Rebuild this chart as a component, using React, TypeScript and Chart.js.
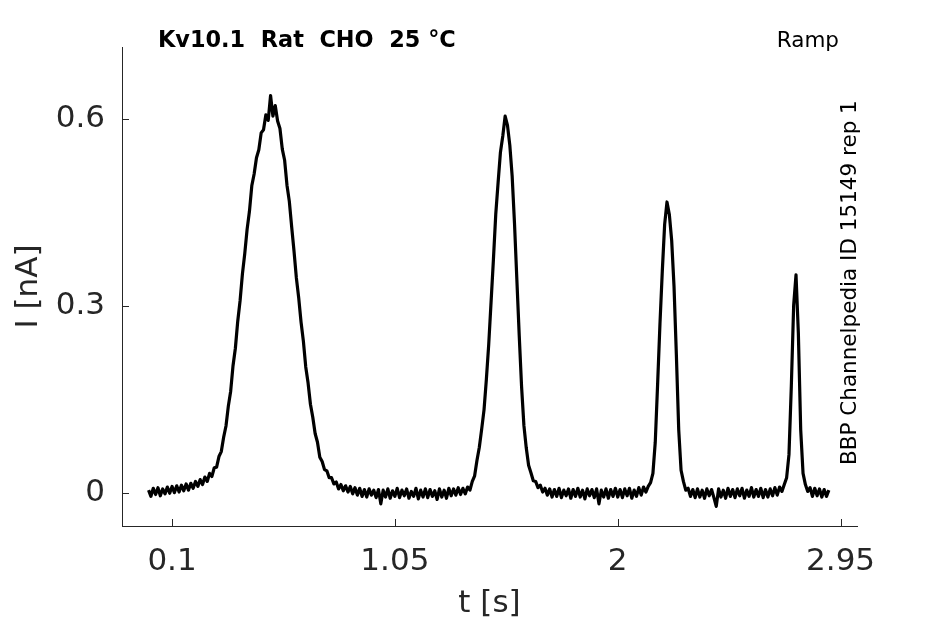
import { useEffect, useRef } from "react";
import Chart from "chart.js/auto";

// sampled current trace, one value every 10 ms starting at t = 0 s
const sampleInterval = 0.01;
const currentNA = [
  0.004, -0.006, 0.007, -0.003, 0.008, -0.005, 0.006, -0.002, 0.009, -0.001,
  0.010, 0.000, 0.011, 0.001, 0.012, 0.003, 0.014, 0.004, 0.015, 0.007,
  0.018, 0.010, 0.021, 0.013, 0.025, 0.018, 0.031, 0.026, 0.040, 0.041,
  0.058, 0.066, 0.089, 0.107, 0.139, 0.163, 0.204, 0.232, 0.275, 0.308,
  0.351, 0.384, 0.423, 0.452, 0.493, 0.512, 0.538, 0.551, 0.578, 0.583,
  0.607, 0.598, 0.638, 0.605, 0.622, 0.597, 0.585, 0.552, 0.534, 0.494,
  0.468, 0.427, 0.388, 0.345, 0.313, 0.274, 0.243, 0.202, 0.176, 0.142,
  0.121, 0.095, 0.081, 0.057, 0.050, 0.037, 0.035, 0.024, 0.024, 0.014,
  0.017, 0.006, 0.013, 0.003, 0.011, 0.001, 0.010, -0.002, 0.008, -0.004,
  0.007, -0.006, 0.005, -0.007, 0.006, -0.004, 0.004, -0.008, 0.005, -0.018,
  0.004, -0.007, 0.006, -0.009, 0.003, -0.006, 0.007, -0.008, 0.004, -0.005,
  0.006, -0.009, 0.002, -0.006, 0.007, -0.010, 0.004, -0.007, 0.006, -0.008,
  0.005, -0.006, 0.003, -0.011, 0.006, -0.007, 0.004, -0.009, 0.007, -0.005,
  0.006, -0.004, 0.008, -0.003, 0.007, -0.002, 0.009, 0.004, 0.018, 0.027,
  0.052, 0.073, 0.102, 0.133, 0.182, 0.238, 0.306, 0.374, 0.447, 0.498,
  0.547, 0.573, 0.605, 0.590, 0.558, 0.508, 0.432, 0.342, 0.253, 0.171,
  0.108, 0.072, 0.044, 0.032, 0.019, 0.018, 0.008, 0.012, 0.001, 0.007,
  -0.004, 0.006, -0.007, 0.005, -0.006, 0.007, -0.008, 0.004, -0.005, 0.006,
  -0.009, 0.005, -0.006, 0.007, -0.007, 0.004, -0.010, 0.006, -0.005, 0.005,
  -0.008, 0.006, -0.018, 0.004, -0.007, 0.006, -0.009, 0.005, -0.006, 0.007,
  -0.007, 0.005, -0.008, 0.006, -0.005, 0.007, -0.009, 0.004, -0.006, 0.008,
  -0.004, 0.009, 0.001, 0.010, 0.016, 0.031, 0.081, 0.174, 0.271, 0.356,
  0.431, 0.467, 0.447, 0.405, 0.331, 0.221, 0.101, 0.036, 0.018, 0.004,
  0.007, -0.006, 0.005, -0.008, 0.006, -0.007, 0.004, -0.009, 0.006, -0.005,
  0.005, -0.008, -0.022, 0.006, -0.007, 0.004, -0.009, 0.007, -0.006, 0.005,
  -0.008, 0.006, -0.005, 0.007, -0.009, 0.004, -0.006, 0.008, -0.007, 0.005,
  -0.006, 0.007, -0.008, 0.005, -0.007, 0.006, -0.005, 0.008, -0.004, 0.009,
  0.002, 0.013, 0.024, 0.061, 0.171, 0.301, 0.350, 0.256, 0.101, 0.031,
  0.013, 0.002, 0.008, -0.006, 0.007, -0.005, 0.006, -0.007, 0.005, -0.006,
  0.004,
];

const xTicks = [0.1, 1.05, 2, 2.95];
const yTicks = [0, 0.3, 0.6];

const axisColor = "#262626";
const tickFont = "'DejaVu Sans', sans-serif";

// inward tick marks plus the axis labels and annotations
const overlay = {
  id: "overlay",
  afterDraw(chart: any) {
    const { ctx, chartArea, scales } = chart;
    ctx.save();
    ctx.strokeStyle = axisColor;
    ctx.lineWidth = 1;
    xTicks.forEach((v) => {
      const px = Math.round(scales.x.getPixelForValue(v)) + 0.5;
      ctx.beginPath();
      ctx.moveTo(px, chartArea.bottom);
      ctx.lineTo(px, chartArea.bottom - 7);
      ctx.stroke();
    });
    yTicks.forEach((v) => {
      const py = Math.round(scales.y.getPixelForValue(v)) + 0.5;
      ctx.beginPath();
      ctx.moveTo(chartArea.left, py);
      ctx.lineTo(chartArea.left + 7, py);
      ctx.stroke();
    });

    ctx.fillStyle = axisColor;
    ctx.font = `31px ${tickFont}`;
    ctx.textAlign = "center";
    ctx.textBaseline = "middle";
    ctx.fillText("t [s]", (chartArea.left + chartArea.right) / 2, 604);
    ctx.save();
    ctx.translate(29, (chartArea.top + chartArea.bottom) / 2);
    ctx.rotate(-Math.PI / 2);
    ctx.fillText("I [nA]", 0, 0);
    ctx.restore();

    ctx.fillStyle = "#000";
    ctx.textBaseline = "alphabetic";
    ctx.textAlign = "left";
    ctx.font = `bold 22.4px ${tickFont}`;
    ctx.fillText("Kv10.1  Rat  CHO  25 °C", 158, 47);
    ctx.textAlign = "right";
    ctx.font = `21.5px ${tickFont}`;
    ctx.fillText("Ramp", 839, 47);
    ctx.save();
    ctx.translate(856, 465);
    ctx.rotate(-Math.PI / 2);
    ctx.textAlign = "left";
    ctx.fillText("BBP Channelpedia ID 15149 rep 1", 0, 0);
    ctx.restore();
    ctx.restore();
  },
};

export default function App() {
  const canvasRef = useRef<HTMLCanvasElement>(null);
  const chartRef = useRef<Chart | null>(null);

  useEffect(() => {
    if (!canvasRef.current) return;
    if (chartRef.current) chartRef.current.destroy();

    const points = currentNA.map((y, i) => ({ x: i * sampleInterval, y }));

    chartRef.current = new Chart(canvasRef.current, {
      type: "line",
      data: {
        datasets: [
          {
            label: "I",
            data: points,
            borderColor: "#000",
            borderWidth: 3.2,
            borderJoinStyle: "round",
            pointRadius: 0,
            tension: 0,
            fill: false,
          },
        ],
      },
      options: {
        responsive: false,
        animation: false,
        layout: { padding: { left: 0, top: 47, right: 88, bottom: 0 } },
        scales: {
          x: {
            type: "linear",
            min: -0.1133,
            max: 3.02,
            afterBuildTicks: (scale: any) => {
              scale.ticks = xTicks.map((value) => ({ value }));
            },
            afterFit: (scale: any) => {
              scale.height = 98;
            },
            grid: { display: false, drawTicks: false },
            border: { display: true, color: axisColor, width: 1 },
            ticks: {
              autoSkip: false,
              maxRotation: 0,
              padding: 17,
              color: axisColor,
              font: { size: 31, family: tickFont },
              callback: (value: any) => String(value),
            },
          },
          y: {
            min: -0.0536,
            max: 0.716,
            afterBuildTicks: (scale: any) => {
              scale.ticks = yTicks.map((value) => ({ value }));
            },
            afterFit: (scale: any) => {
              scale.width = 122;
            },
            grid: { display: false, drawTicks: false },
            border: { display: true, color: axisColor, width: 1 },
            ticks: {
              autoSkip: false,
              padding: 17,
              color: axisColor,
              font: { size: 31, family: tickFont },
              callback: (value: any) => String(value),
            },
          },
        },
        plugins: {
          legend: { display: false },
          tooltip: { enabled: false },
        },
      },
      plugins: [overlay],
    });

    return () => {
      if (chartRef.current) {
        chartRef.current.destroy();
        chartRef.current = null;
      }
    };
  }, []);

  return (
    <div
      style={{
        position: "absolute",
        left: 0,
        top: 0,
        width: 945,
        height: 624,
        background: "#fff",
      }}
    >
      <canvas ref={canvasRef} width={945} height={624} />
    </div>
  );
}
